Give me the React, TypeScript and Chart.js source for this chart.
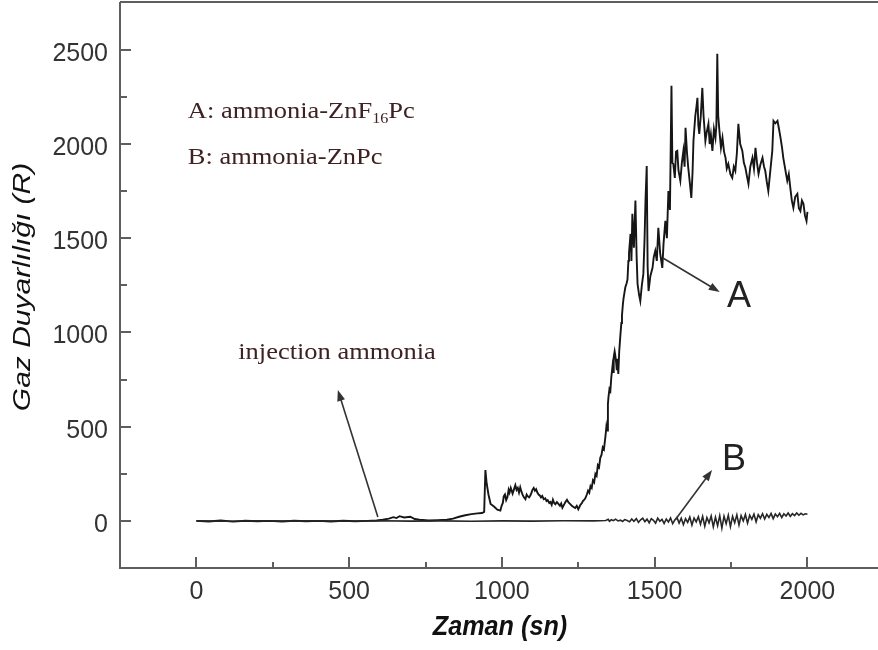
import React, { useEffect, useRef } from "react";
import { Chart, registerables } from "chart.js";

Chart.register(...registerables);

// ---- data ----
const xTickValues = [0, 500, 1000, 1500, 2000];
const yTickValues = [0, 500, 1000, 1500, 2000, 2500];
const xMinorTicks = [250, 750, 1250, 1750];
const yMinorTicks = [250, 750, 1250, 1750, 2250];

const xTitle = "Zaman (sn)";
const yTitle = "Gaz Duyarlılığı (R)";

const seriesA: [number, number][] = [
  [0, 0], [40, -3], [80, 2], [120, -4], [160, 1], [200, -2], [240, 0], [280, -3], [320, 1], [360, -2],
  [400, 0], [440, -3], [480, 1], [520, -2], [560, 0], [590, 2], [610, 6], [630, 12], [645, 20], [655, 15],
  [665, 25], [680, 18], [700, 22], [715, 10], [730, 6], [760, 2], [790, 4], [820, 6], [840, 12], [860, 22],
  [880, 30], [900, 36], [920, 40], [935, 42], [942, 48], [946, 270], [950, 200], [956, 140], [963, 90], [975, 75],
  [985, 60], [995, 55], [999, 80], [1003, 95], [1006, 130], [1010, 140], [1014, 110], [1018, 125], [1022, 165], [1025, 150],
  [1029, 175], [1035, 145], [1040, 170], [1044, 190], [1048, 165], [1052, 175], [1056, 150], [1060, 178], [1064, 155], [1068, 138],
  [1072, 125], [1077, 115], [1081, 140], [1085, 130], [1089, 125], [1093, 135], [1097, 150], [1100, 165], [1104, 175], [1108, 160],
  [1112, 168], [1116, 150], [1120, 140], [1124, 135], [1128, 125], [1132, 132], [1137, 115], [1142, 120], [1146, 105], [1150, 110],
  [1155, 95], [1159, 100], [1163, 85], [1167, 112], [1171, 95], [1175, 88], [1180, 100], [1185, 90], [1190, 80], [1194, 92],
  [1198, 70], [1203, 85], [1208, 100], [1213, 112], [1218, 98], [1223, 90], [1228, 82], [1233, 75], [1240, 68], [1245, 80],
  [1250, 62], [1254, 75], [1257, 85], [1262, 95], [1265, 105], [1269, 112], [1273, 120], [1278, 140], [1282, 160], [1286, 150],
  [1290, 185], [1294, 175], [1298, 215], [1302, 205], [1306, 250], [1310, 240], [1314, 295], [1318, 285], [1322, 335], [1326, 350],
  [1330, 390], [1334, 380], [1339, 450], [1342, 500], [1344, 480], [1347, 620], [1349, 660], [1352, 700], [1355, 690], [1358, 760],
  [1362, 820], [1364, 790], [1366, 870], [1369, 900], [1371, 880], [1374, 840], [1376, 800], [1378, 860], [1381, 780], [1384, 900],
  [1388, 990], [1391, 1050], [1393, 1090], [1396, 1150], [1398, 1180], [1401, 1210], [1404, 1240], [1408, 1260], [1411, 1280], [1414, 1380],
  [1416, 1420], [1421, 1523], [1424, 1380], [1427, 1630], [1432, 1450], [1437, 1700], [1441, 1400], [1444, 1258], [1449, 1200], [1453, 1167],
  [1458, 1250], [1463, 1311], [1467, 1500], [1470, 1700], [1474, 1884], [1477, 1350], [1480, 1220], [1486, 1300], [1493, 1343], [1497, 1400],
  [1502, 1433], [1507, 1380], [1512, 1555], [1518, 1420], [1525, 1343], [1529, 1470], [1535, 1592], [1540, 1500], [1545, 1751], [1550, 1650],
  [1555, 2309], [1558, 1900], [1561, 1895], [1566, 1820], [1570, 1960], [1574, 1964], [1578, 1860], [1584, 1805], [1589, 1900], [1594, 1964],
  [1598, 1880], [1601, 2086], [1606, 1950], [1610, 1874], [1616, 1780], [1620, 1714], [1624, 1850], [1627, 2017], [1633, 2150], [1637, 2200],
  [1640, 2245], [1643, 2100], [1646, 2054], [1651, 2150], [1656, 2298], [1660, 2150], [1666, 2017], [1670, 2060], [1676, 2107], [1680, 2000],
  [1684, 2050], [1689, 1964], [1694, 2080], [1699, 2033], [1702, 2100], [1705, 2479], [1708, 2150], [1712, 2070], [1717, 1980], [1722, 2033],
  [1727, 1960], [1732, 1927], [1736, 1870], [1741, 1895], [1748, 1840], [1754, 1821], [1759, 1880], [1764, 1858], [1769, 1950], [1774, 2107],
  [1780, 2000], [1787, 1964], [1792, 1900], [1797, 1874], [1802, 1830], [1807, 1789], [1813, 1880], [1820, 1927], [1825, 1870], [1830, 1980],
  [1835, 1900], [1840, 1842], [1846, 1890], [1853, 1927], [1858, 1880], [1862, 1858], [1867, 1800], [1872, 1751], [1878, 1850], [1885, 1964],
  [1889, 2123], [1895, 2110], [1902, 2123], [1907, 2080], [1912, 2033], [1917, 1980], [1921, 1927], [1928, 1860], [1934, 1805], [1939, 1840],
  [1944, 1768], [1949, 1700], [1954, 1661], [1960, 1720], [1967, 1736], [1972, 1660], [1977, 1645], [1982, 1700], [1987, 1683], [1992, 1620],
  [1997, 1592], [2000, 1640],
];

const seriesB: [number, number][] = [
  [0, 0], [100, -2], [200, 1], [300, -1], [400, 0], [500, -2], [600, 1], [700, -1], [800, 0], [900, -2],
  [1000, 0], [1100, -1], [1200, 1], [1300, 0], [1340, 2], [1348, 8], [1352, -2], [1358, 6], [1365, 1], [1372, 9],
  [1380, 0], [1388, 4], [1395, -3], [1402, 7], [1410, 2], [1418, -5], [1425, 10], [1432, -2], [1440, 12], [1447, -8],
  [1454, 6], [1461, 14], [1468, -4], [1475, 9], [1482, -10], [1489, 12], [1496, 3], [1503, -12], [1510, 15], [1517, -2],
  [1524, 8], [1531, -14], [1538, 10], [1545, -6], [1552, 16], [1559, -15], [1566, 5], [1573, 18], [1580, -12], [1587, 14],
  [1594, -20], [1601, 12], [1608, -8], [1615, 20], [1622, -22], [1629, 15], [1636, -5], [1643, 22], [1650, -18], [1657, 24],
  [1664, -28], [1671, 18], [1678, -10], [1685, 26], [1692, -32], [1699, 20], [1706, -25], [1713, 28], [1720, -38], [1727, 25],
  [1734, -15], [1741, 30], [1748, -30], [1755, 24], [1762, -10], [1769, 32], [1776, -22], [1783, 28], [1790, 0], [1797, 34],
  [1804, -12], [1811, 30], [1818, 8], [1825, 36], [1832, -5], [1839, 33], [1846, 14], [1853, 38], [1860, 10], [1867, 35],
  [1874, 18], [1881, 40], [1888, 12], [1895, 36], [1902, 22], [1909, 40], [1916, 18], [1923, 38], [1930, 26], [1937, 42],
  [1944, 24], [1951, 38], [1958, 28], [1965, 42], [1972, 30], [1979, 40], [1986, 32], [1993, 38], [2000, 35],
];

// annotation anchors (data coordinates)
const arrowInjection = { from: [594, 21], to: [463, 695] };
const arrowA = { from: [1527, 1395], to: [1713, 1215] };
const arrowB = { from: [1567, 5], to: [1688, 270] };
const legendA = { at: [-28, 2138], pre: "A: ammonia-ZnF", sub: "16", post: "Pc" };
const legendB = { at: [-28, 1894], text: "B: ammonia-ZnPc" };
const injectionLabel = { at: [137, 860], text: "injection ammonia" };
const labelA = { at: [1737, 1135], text: "A" };
const labelB = { at: [1720, 270], text: "B" };

const AXIS = "#5e5e5e";
const TICKTEXT = "#333333";
const ANNOT = "#3e2222";

function drawArrow(ctx: CanvasRenderingContext2D, x1: number, y1: number, x2: number, y2: number) {
  const ang = Math.atan2(y2 - y1, x2 - x1);
  const hl = 11, hw = 4;
  ctx.strokeStyle = "#333";
  ctx.fillStyle = "#333";
  ctx.lineWidth = 1.6;
  ctx.beginPath();
  ctx.moveTo(x1, y1);
  ctx.lineTo(x2 - Math.cos(ang) * hl * 0.7, y2 - Math.sin(ang) * hl * 0.7);
  ctx.stroke();
  ctx.beginPath();
  ctx.moveTo(x2, y2);
  ctx.lineTo(x2 - Math.cos(ang) * hl - Math.sin(ang) * hw, y2 - Math.sin(ang) * hl + Math.cos(ang) * hw);
  ctx.lineTo(x2 - Math.cos(ang) * hl + Math.sin(ang) * hw, y2 - Math.sin(ang) * hl - Math.cos(ang) * hw);
  ctx.closePath();
  ctx.fill();
}

function stretchText(ctx: CanvasRenderingContext2D, text: string, x: number, y: number, sx: number, font: string, color: string) {
  ctx.save();
  ctx.font = font;
  ctx.fillStyle = color;
  ctx.textAlign = "left";
  ctx.textBaseline = "alphabetic";
  ctx.translate(x, y);
  ctx.scale(sx, 1);
  ctx.fillText(text, 0, 0);
  const w = ctx.measureText(text).width * sx;
  ctx.restore();
  return w;
}

const overlay = {
  id: "overlay",
  afterDraw(chart: any) {
    const { ctx, chartArea: ca } = chart;
    const xs = chart.scales.x;
    const ys = chart.scales.y;
    const px = (v: number) => xs.getPixelForValue(v);
    const py = (v: number) => ys.getPixelForValue(v);
    ctx.save();
    // frame
    ctx.strokeStyle = AXIS;
    ctx.lineWidth = 2;
    ctx.beginPath();
    ctx.moveTo(ca.left, ca.top);
    ctx.lineTo(ca.right, ca.top);
    ctx.moveTo(ca.left, ca.top);
    ctx.lineTo(ca.left, ca.bottom);
    ctx.lineTo(ca.right, ca.bottom);
    ctx.stroke();
    // ticks (inward)
    ctx.lineWidth = 2;
    ctx.beginPath();
    xTickValues.forEach((v) => { const p = Math.round(px(v)); ctx.moveTo(p, ca.bottom); ctx.lineTo(p, ca.bottom - 11); });
    xMinorTicks.forEach((v) => { const p = Math.round(px(v)); ctx.moveTo(p, ca.bottom); ctx.lineTo(p, ca.bottom - 6); });
    yTickValues.forEach((v) => { const p = Math.round(py(v)); ctx.moveTo(ca.left, p); ctx.lineTo(ca.left + 11, p); });
    yMinorTicks.forEach((v) => { const p = Math.round(py(v)); ctx.moveTo(ca.left, p); ctx.lineTo(ca.left + 7, p); });
    ctx.stroke();
    // tick labels
    ctx.fillStyle = TICKTEXT;
    ctx.font = "25px 'Liberation Sans', Arial, sans-serif";
    ctx.textBaseline = "alphabetic";
    ctx.textAlign = "center";
    xTickValues.forEach((v) => ctx.fillText(String(v), px(v), ca.bottom + 31));
    ctx.textAlign = "right";
    yTickValues.forEach((v) => ctx.fillText(String(v), ca.left - 12, py(v) + 11));
    // axis titles
    ctx.save();
    ctx.fillStyle = "#111";
    ctx.font = "italic bold 28px 'Liberation Sans', Arial, sans-serif";
    ctx.textAlign = "center";
    ctx.translate(500, ca.bottom + 67);
    ctx.scale(0.9, 1);
    ctx.fillText(xTitle, 0, 0);
    ctx.restore();
    ctx.save();
    ctx.fillStyle = "#111";
    ctx.font = "italic 24px 'Liberation Sans', Arial, sans-serif";
    ctx.textAlign = "center";
    ctx.translate(30, 287);
    ctx.rotate(-Math.PI / 2);
    ctx.scale(1.25, 1);
    ctx.fillText(yTitle, 0, 0);
    ctx.restore();
    // arrows
    [arrowInjection, arrowA, arrowB].forEach((a) => drawArrow(ctx, px(a.from[0]), py(a.from[1]), px(a.to[0]), py(a.to[1])));
    // annotations
    const serif = "23px 'Liberation Serif', 'Times New Roman', serif";
    const sx = 1.15;
    let x0 = px(legendA.at[0]);
    const y0 = py(legendA.at[1]);
    x0 += stretchText(ctx, legendA.pre, x0, y0, sx, serif, ANNOT);
    x0 += stretchText(ctx, legendA.sub, x0, y0 + 5, sx, "14px 'Liberation Serif', 'Times New Roman', serif", ANNOT);
    stretchText(ctx, legendA.post, x0, y0, sx, serif, ANNOT);
    stretchText(ctx, legendB.text, px(legendB.at[0]), py(legendB.at[1]), sx, serif, ANNOT);
    stretchText(ctx, injectionLabel.text, px(injectionLabel.at[0]), py(injectionLabel.at[1]), sx, serif, ANNOT);
    ctx.fillStyle = "#222";
    ctx.font = "36px 'Liberation Sans', Arial, sans-serif";
    ctx.textAlign = "left";
    ctx.fillText(labelA.text, px(labelA.at[0]), py(labelA.at[1]));
    ctx.fillText(labelB.text, px(labelB.at[0]), py(labelB.at[1]));
    ctx.restore();
  },
};

export default function App() {
  const ref = useRef<HTMLCanvasElement | null>(null);
  useEffect(() => {
    if (!ref.current) return;
    const chart = new Chart(ref.current, {
      type: "scatter",
      data: {
        datasets: [
          {
            label: "B",
            data: seriesB.map(([x, y]) => ({ x, y })),
            showLine: true,
            borderColor: "#262626",
            borderWidth: 1.6,
            pointRadius: 0,
            tension: 0,
          },
          {
            label: "A",
            data: seriesA.map(([x, y]) => ({ x, y })),
            showLine: true,
            borderColor: "#161616",
            borderWidth: 1.9,
            pointRadius: 0,
            tension: 0,
          },
        ],
      },
      options: {
        animation: false,
        responsive: false,
        devicePixelRatio: 1,
        layout: { padding: { left: 120, top: 2, right: 0, bottom: 82 } },
        plugins: { legend: { display: false }, tooltip: { enabled: false } },
        scales: {
          x: { type: "linear", display: false, min: -250, max: 2231 },
          y: { type: "linear", display: false, min: -250, max: 2754 },
        },
      },
      plugins: [overlay],
    });
    return () => chart.destroy();
  }, []);
  return (
    <div style={{ position: "absolute", left: 0, top: 0, width: 878, height: 650, background: "#fff" }}>
      <canvas ref={ref} width={878} height={650} />
    </div>
  );
}
